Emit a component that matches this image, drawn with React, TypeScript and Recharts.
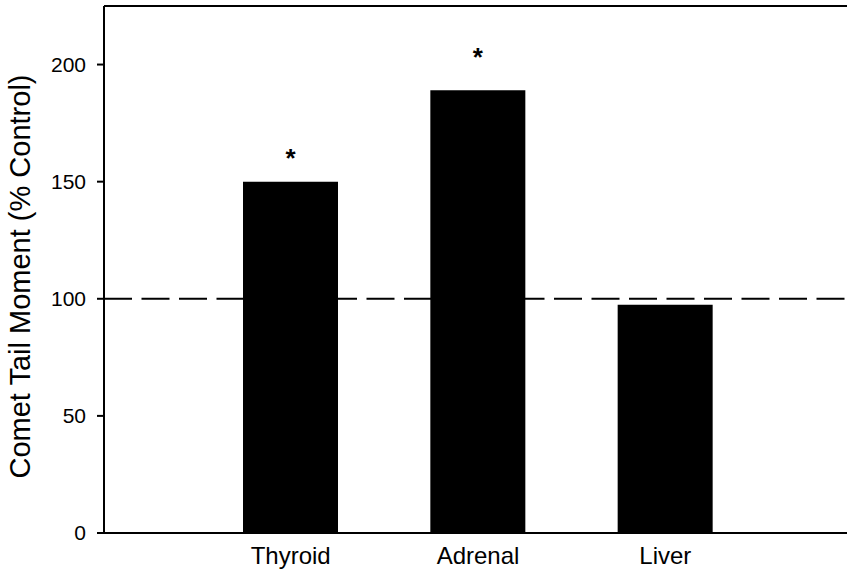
import React from 'react';
import { BarChart, Bar, XAxis, YAxis, ReferenceLine, LabelList, Label } from 'recharts';

const TISSUES = ['Thyroid', 'Adrenal', 'Liver'];
const TAIL_MOMENT = [150, 189, 97.5];
const SIGNIFICANT = ['*', '*', ''];
const Y_TICKS = [0, 50, 100, 150, 200];
const CONTROL_LEVEL = 100;

// distance from bar top to the centre of the asterisk, per bar
const STAR_GAP = [31, 40, 0];

const FONT = '"Liberation Sans", Arial, Helvetica, sans-serif';

const data = TISSUES.map((tissue, i) => ({
  tissue,
  value: TAIL_MOMENT[i],
  sig: SIGNIFICANT[i],
}));

const StarLabel = (props: any) => {
  const { x, y, width, value, index } = props;
  if (!value) return null;
  return (
    <text
      x={x + width / 2}
      y={y - STAR_GAP[index]}
      textAnchor="middle"
      dominantBaseline="central"
      fontFamily={FONT}
      fontSize={26}
      fontWeight="bold"
      fill="#000"
      dy={7}
    >
      {value}
    </text>
  );
};

// rotated y-axis title, centred a little below the middle of the axis
const AxisTitle = (props: any) => {
  const { viewBox } = props;
  const cx = viewBox.x + 20;
  const cy = viewBox.y + viewBox.height / 2 + 7;
  return (
    <text
      x={cx}
      y={cy}
      transform={`rotate(-90, ${cx}, ${cy})`}
      textAnchor="middle"
      dominantBaseline="central"
      fontFamily={FONT}
      fontSize={29}
      fill="#000"
    >
      Comet Tail Moment (% Control)
    </text>
  );
};

const App: React.FC = () => {
  return (
    <div
      style={{
        position: 'absolute',
        left: 0,
        top: 0,
        width: 847,
        height: 573,
        overflow: 'hidden',
        background: '#fff',
      }}
    >
      <BarChart
        width={870}
        height={573}
        data={data}
        margin={{ top: 6, right: 18, bottom: 0, left: 0 }}
      >
        <XAxis
          dataKey="tissue"
          padding={{ left: 93, right: 93 }}
          height={40}
          stroke="#000"
          strokeWidth={2}
          tickLine={false}
          tickSize={0}
          tickMargin={14}
          tick={{ fill: '#000', fontSize: 24, fontFamily: FONT }}
        />
        <YAxis
          width={104}
          domain={[0, 225]}
          ticks={Y_TICKS}
          allowDataOverflow
          stroke="#000"
          strokeWidth={2}
          tickSize={7}
          tickMargin={11}
          tick={{ fill: '#000', fontSize: 21, fontFamily: FONT }}
        >
          <Label content={<AxisTitle />} />
        </YAxis>
        <ReferenceLine y={225} stroke="#000" strokeWidth={2} />
        <ReferenceLine
          y={CONTROL_LEVEL}
          stroke="#000"
          strokeWidth={2}
          strokeDasharray="28 9.5"
        />
        <Bar dataKey="value" fill="#000" barSize={95} isAnimationActive={false}>
          <LabelList dataKey="sig" content={<StarLabel />} />
        </Bar>
      </BarChart>
    </div>
  );
};

export default App;
